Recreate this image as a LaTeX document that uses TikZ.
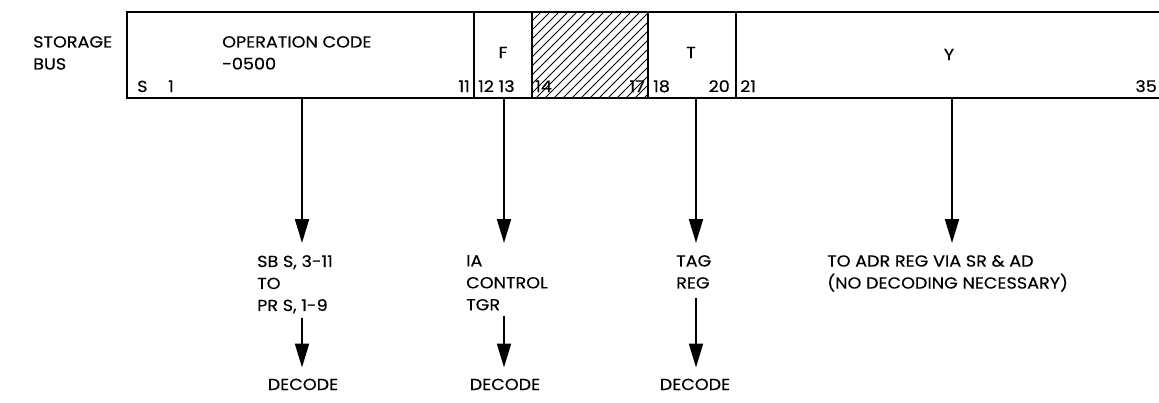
\documentclass[tikz,border=0pt]{standalone}
\usepackage{fontspec}
\setmainfont{Poppins}[FakeStretch=1.1,FakeBold=0.35]
\usetikzlibrary{arrows.meta}
\begin{document}
\begin{tikzpicture}[x=1pt,y=-1pt,
  lbl/.style={inner sep=0pt, font=\fontsize{16}{22}\selectfont},
  blk/.style={lbl, align=left, anchor=north west},
  arr/.style={line width=2pt, -{Triangle[width=14pt,length=24pt]}},
  frame/.style={line width=2.8pt},
  divider/.style={line width=2pt},
  hatch/.style={line width=0.9pt}]
\useasboundingbox (0,0) rectangle (1159,402);
% hatching of unused field
\begin{scope}
  \clip (532,12) rectangle (648,98);
  \foreach \i in {0,...,24} \draw[hatch] (446+\i*9,98) -- ++(86,-86);
\end{scope}
% frame of storage bus word
\draw[frame] (1165,12) -- (127,12) -- (127,98) -- (1165,98);
\foreach \x in {474,532,648,736} \draw[divider] (\x,12) -- (\x,98);
% left label
\node[blk] (sbus) at (33,36) {STORAGE\\BUS};
% field texts
\node[blk] (opc) at (222,36) {OPERATION CODE\\-0500};
\node[lbl, anchor=base west] (bS) at (137,92) {S};
\node[lbl, anchor=base west] (b1) at (168,92) {1};
\node[lbl, anchor=base east] (b11) at (470,92) {11};
\node[lbl, anchor=base west] (b12) at (478,92) {12 13};
\node[lbl, anchor=base west] (b14) at (535,92) {14};
\node[lbl, anchor=base east] (b17) at (645,92) {17};
\node[lbl, anchor=base west] (b18) at (653,92) {18};
\node[lbl, anchor=base east] (b20) at (730,92) {20};
\node[lbl, anchor=base west] (b21) at (740,92) {21};
\node[lbl, anchor=base east] (b35) at (1157,92) {35};
\node[lbl, anchor=base] (fF) at (503,58) {F};
\node[lbl, anchor=base] (fT) at (691,58) {T};
\node[lbl, anchor=base] (fY) at (949,60) {Y};
% arrow origins on bus
\coordinate (oOP) at (302,98);
\coordinate (oF) at (504,98);
\coordinate (oT) at (696,98);
\coordinate (oY) at (952,98);
% destination texts
\node[blk] (sb) at (257,255) {SB S, 3-11\\TO\\PR S, 1-9};
\node[blk] (ia) at (466,255) {IA\\CONTROL\\TGR};
\node[blk] (tag) at (676,255) {TAG\\REG};
\node[blk] (adr) at (827,255) {TO ADR REG VIA SR \& AD\\(NO DECODING NECESSARY)};
\node[lbl, anchor=base] (d1) at (303,390) {DECODE};
\node[lbl, anchor=base] (d2) at (505,390) {DECODE};
\node[lbl, anchor=base] (d3) at (695,390) {DECODE};
% connectors
\draw[arr] (oOP) -- ([yshift=12pt]oOP |- sb.north);
\draw[arr] (oF) -- ([yshift=12pt]oF |- ia.north);
\draw[arr] (oT) -- ([yshift=12pt]oT |- tag.north);
\draw[arr] (oY) -- ([yshift=12pt]oY |- adr.north);
\draw[arr] ([yshift=-5pt]oOP |- sb.south) -- ([yshift=11pt]oOP |- d1.north);
\draw[arr] ([yshift=-5pt]oF |- ia.south) -- ([yshift=11pt]oF |- d2.north);
\draw[arr] ([yshift=-9pt]oT |- tag.south) -- ([yshift=11pt]oT |- d3.north);
\end{tikzpicture}
\end{document}
